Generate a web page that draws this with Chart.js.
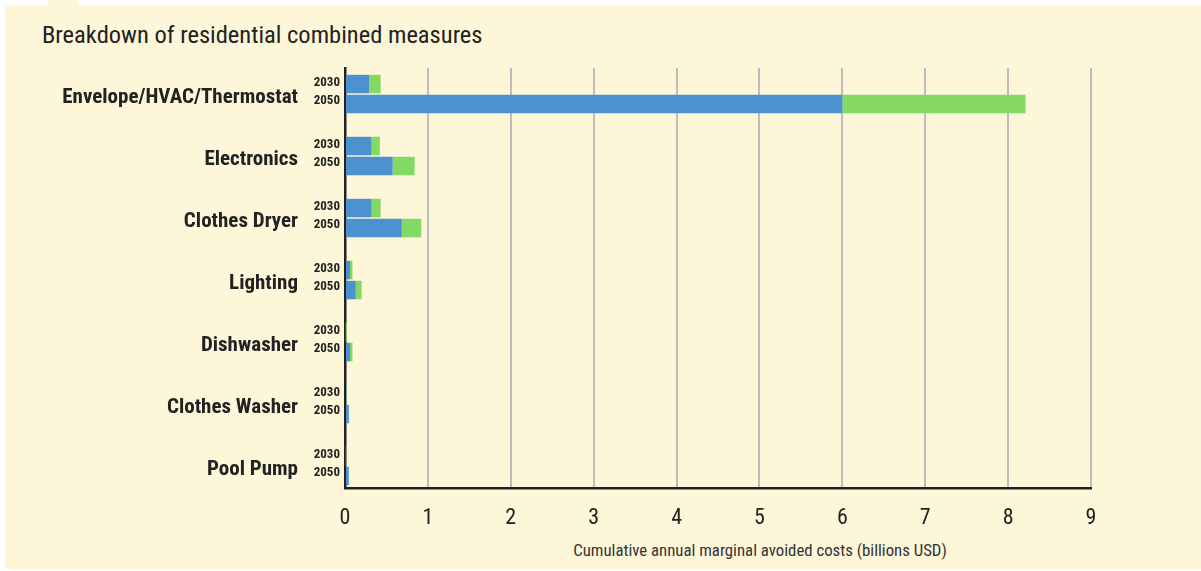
<!DOCTYPE html>
<html>
<head>
<meta charset="utf-8">
<title>Breakdown of residential combined measures</title>
<script src="https://cdn.jsdelivr.net/npm/chart.js@4/dist/chart.umd.min.js"></script>
<style>
  html, body { margin:0; padding:0; background:#fff; }
  body { width:1201px; height:571px; position:relative; overflow:hidden; font-family:'Roboto Condensed', Roboto, sans-serif; }
  .panel { position:absolute; left:5px; top:5px; width:1196px; height:564px; background:#fdf6d9; }
  .tab   { position:absolute; left:48px; top:0; width:30px; height:6px; background:#fdf6d9; }
  .title { position:absolute; left:42px; top:21px; font-size:24.5px; line-height:28px; color:#222; white-space:nowrap; }
  .xtitle{ position:absolute; left:760px; top:540px; transform:translateX(-50%); font-size:16.8px; line-height:20px; color:#333; white-space:nowrap; }
  #chart { position:absolute; left:0; top:0; }
</style>
</head>
<body>
<div class="panel"></div>
<div class="tab"></div>
<div class="title">Breakdown of residential combined measures</div>
<div class="xtitle">Cumulative annual marginal avoided costs (billions USD)</div>
<canvas id="chart" width="1201" height="571"></canvas>

<script>
/* ── Datos ── */
const CATEGORIES = ['Envelope/HVAC/Thermostat','Electronics','Clothes Dryer','Lighting','Dishwasher','Clothes Washer','Pool Pump'];
const YEARS      = ['2030','2050'];
const BLUE_2030  = [0.29, 0.32, 0.32, 0.06, 0.010, 0.015, 0.010];
const GREEN_2030 = [0.14, 0.10, 0.11, 0.03, 0.010, 0.003, 0.002];
const BLUE_2050  = [6.00, 0.575, 0.685, 0.13, 0.060, 0.045, 0.045];
const GREEN_2050 = [2.21, 0.265, 0.235, 0.07, 0.030, 0.005, 0.004];
const X_TICKS    = [0,1,2,3,4,5,6,7,8,9];

const BLUE = '#4c92cf', GREEN = '#84d864';
const FONT = "'Roboto Condensed', Roboto, sans-serif";
const INK  = '#222';

/* ── Etiquetas de año junto a cada barra ── */
const yearLabels = {
  id:'yearLabels',
  afterDatasetsDraw(chart) {
    const ctx = chart.ctx, left = chart.chartArea.left;
    ctx.save();
    ctx.font = `bold 13px ${FONT}`;
    ctx.fillStyle = INK;
    ctx.textAlign = 'right';
    ctx.textBaseline = 'middle';
    [0,2].forEach((di,k) => {
      const nudge = k===0 ? -1.5 : -3;
      chart.getDatasetMeta(di).data.forEach(bar => ctx.fillText(YEARS[k], left-5, bar.y+nudge));
    });
    ctx.restore();
  }
};

new Chart(document.getElementById('chart'), {
  type:'bar',
  data:{
    labels:CATEGORIES,
    datasets:[
      { label:'2030 a', data:BLUE_2030,  backgroundColor:BLUE,  stack:YEARS[0] },
      { label:'2030 b', data:GREEN_2030, backgroundColor:GREEN, stack:YEARS[0] },
      { label:'2050 a', data:BLUE_2050,  backgroundColor:BLUE,  stack:YEARS[1] },
      { label:'2050 b', data:GREEN_2050, backgroundColor:GREEN, stack:YEARS[1] }
    ]
  },
  options:{
    indexAxis:'y',
    responsive:false,
    animation:false,
    layout:{ padding:{ left:0, right:110, top:68, bottom:8 } },
    datasets:{ bar:{ categoryPercentage:0.645, barPercentage:0.925, borderWidth:0 } },
    plugins:{ legend:{ display:false }, tooltip:{ enabled:false } },
    scales:{
      x:{
        type:'linear', stacked:true, min:0, max:9,
        afterBuildTicks:s => { s.ticks = X_TICKS.map(v=>({value:v})); },
        afterFit:s => { s.height = 75; },
        grid:{ color:'#bdbdbd', lineWidth:2, drawTicks:false },
        border:{ color:INK, width:2.5 },
        ticks:{ color:INK, padding:17, font:{ family:FONT, size:22 } }
      },
      y:{
        stacked:true,
        afterBuildTicks:s => { s._startValue = -0.42; s._valueRange = 6.774; },
        afterFit:s => { s.width = 345; },
        grid:{ display:false, drawTicks:false },
        border:{ color:INK, width:2.5 },
        ticks:{ color:INK, padding:47, labelOffset:4, font:{ family:FONT, size:21, weight:'bold' } }
      }
    }
  },
  plugins:[yearLabels]
});
</script>
</body>
</html>
